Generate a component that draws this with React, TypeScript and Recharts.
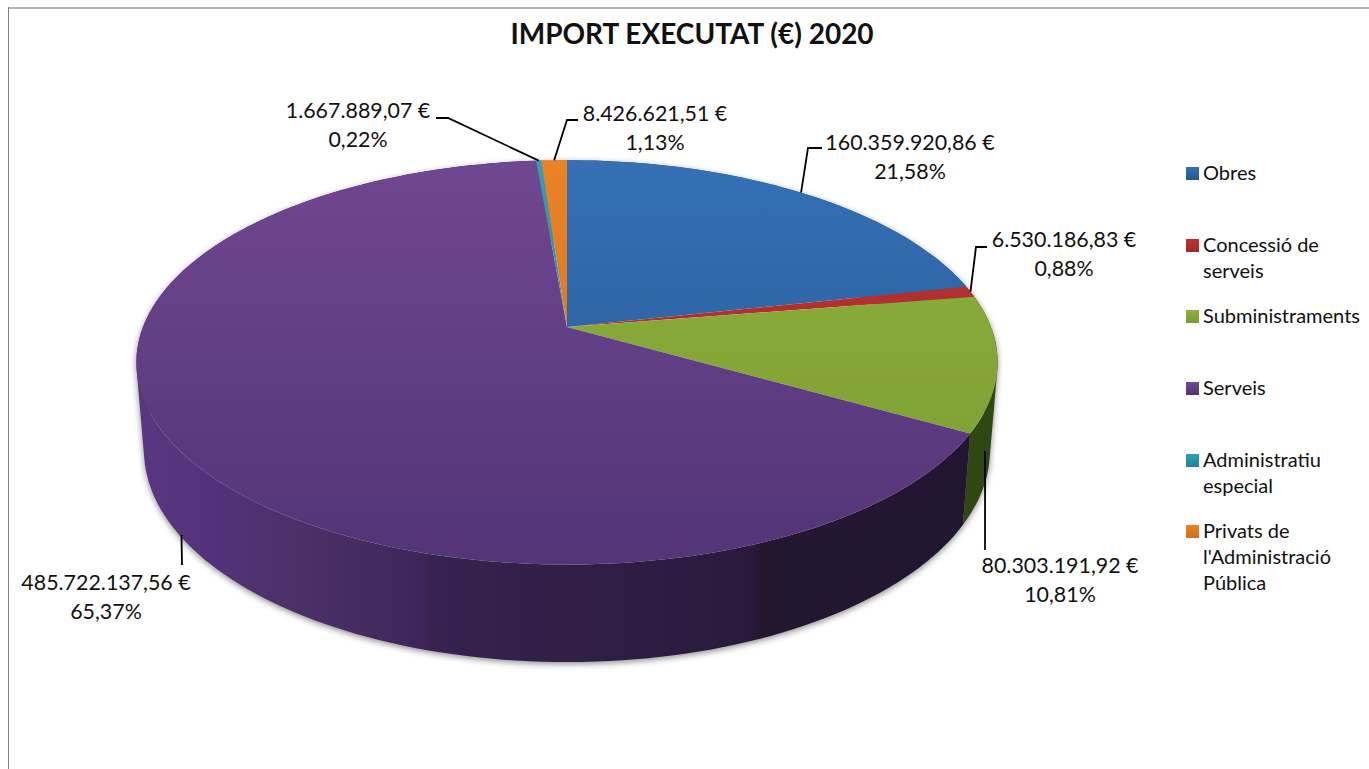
import { Legend, Pie, PieChart } from 'recharts';

const categories = ['Obres', 'Concessió de serveis', 'Subministraments', 'Serveis', 'Administratiu especial', "Privats de l'Administració Pública"];
const imports = [160359920.86, 6530186.83, 80303191.92, 485722137.56, 1667889.07, 8426621.51];
const colors = ['#2f68ac', '#b3302f', '#86a938', '#60397f', '#2b97b4', '#e47d24'];
const topShades = ['#3570b5', '#bb3431', '#8fb23d', '#704791', '#2f9fbb', '#ea8226'];
const bottomShades = ['#235792', '#9f2a2a', '#7a9a30', '#533477', '#23809a', '#d0701d'];

const rows = categories.map((name, i) => ({ name, value: imports[i], fill: colors[i] }));

const FONT = 'Lato, "Open Sans", sans-serif';
const CX = 567;
const CY = 327;
const RADIUS = 424;

// perspective projection of the disc, upper rim and lower rim
const upper = { cy: CY, a: 196, b: RADIUS, k: 0.175 };
const lower = { cy: 413, a: 205.5, b: 416.5, k: 0.175 };

const project = (rim: typeof upper, angle: number) => {
  const rad = (angle * Math.PI) / 180;
  const u = Math.cos(rad);
  const v = Math.sin(rad);
  const w = 1 + rim.k * v;
  return [CX + (rim.b * u) / w, rim.cy - (rim.a * v) / w];
};

const arc = (rim: typeof upper, from: number, to: number) => {
  const steps = Math.max(2, Math.ceil(Math.abs(to - from) / 1.5));
  const pts = [];
  for (let i = 0; i <= steps; i++) pts.push(project(rim, from + ((to - from) * i) / steps));
  return pts;
};

const toPath = (pts: number[][]) => 'M' + pts.map((p) => p[0].toFixed(1) + ' ' + p[1].toFixed(1)).join('L') + 'Z';

const TopSlice = (props: any) => {
  const i = categories.indexOf(props.name);
  const d = toPath([[CX, CY], ...arc(upper, props.startAngle, props.endAngle)]);
  return <path d={d} fill={`url(#top-${i})`} />;
};

const signedArea = (q: number[][]) =>
  q.reduce((sum, p, i) => {
    const n = q[(i + 1) % q.length];
    return sum + p[0] * n[1] - n[0] * p[1];
  }, 0);

// wall of a slice: quads with the same winding in one path, so the silhouette stays straight
const SideSlice = (props: any) => {
  const i = categories.indexOf(props.name);
  const fill = i === 2 ? '#2f4713' : i === 3 ? 'url(#side-purple)' : bottomShades[i];
  const top = arc(upper, props.startAngle, props.endAngle);
  const bottom = arc(lower, props.startAngle, props.endAngle);
  const d = top
    .slice(1)
    .map((p, s) => {
      const quad = [top[s], p, bottom[s + 1], bottom[s]];
      return toPath(signedArea(quad) < 0 ? quad.reverse() : quad);
    })
    .join('');
  return <path d={d} fill={fill} fillRule="nonzero" />;
};

// where each label sits and how its leader bends
const labelSpots = [
  { x: 910, y: 142, via: [[808, 148], [822, 148]], low: false, nudge: 0 },
  { x: 1064, y: 239, via: [[976, 247], [987, 247]], low: false, nudge: 0 },
  { x: 1060, y: 565, via: [[985, 550]], low: true, nudge: -5 },
  { x: 106, y: 582, via: [[182, 565]], low: true, nudge: 2 },
  { x: 358, y: 110, via: [[448, 118], [436, 118]], low: false, nudge: 0 },
  { x: 655, y: 113, via: [[567, 120], [578, 120]], low: false, nudge: 0 },
];

const money = (n: number) =>
  n.toLocaleString('de-DE', { minimumFractionDigits: 2, maximumFractionDigits: 2 }) + ' €';

const SliceLabel = (props: any) => {
  const i = props.index;
  const spot = labelSpots[i];
  const rimPoint = project(spot.low ? lower : upper, props.midAngle);
  const start = [rimPoint[0] + spot.nudge, rimPoint[1]];
  const pts = [start, ...spot.via].map((p) => p.join(',')).join(' ');
  return (
    <g>
      <polyline points={pts} fill="none" stroke="#000" strokeWidth={1.8} />
      <text x={spot.x} y={spot.y} textAnchor="middle" dominantBaseline="central" fontFamily={FONT} fontSize={21.4} fill="#111">
        {money(imports[i])}
      </text>
      <text x={spot.x} y={spot.y + 29} textAnchor="middle" dominantBaseline="central" fontFamily={FONT} fontSize={21.4} fill="#111">
        {(props.percent * 100).toFixed(2).replace('.', ',') + '%'}
      </text>
    </g>
  );
};

const legendTops = [160, 232, 303, 375, 447, 518];

const LegendBox = () => (
  <div style={{ position: 'relative', width: 190, height: 460 }}>
    {categories.map((name, i) => (
      <div key={name} style={{ position: 'absolute', left: 0, top: legendTops[i] - 160, width: 180 }}>
        <span
          style={{
            position: 'absolute',
            left: 0,
            top: 7,
            width: 13,
            height: 13,
            background: `linear-gradient(${topShades[i]}, ${bottomShades[i]})`,
          }}
        />
        <div style={{ marginLeft: 17, marginTop: -1, fontFamily: FONT, fontSize: 20, lineHeight: '26px', color: '#111', width: 165 }}>{name}</div>
      </div>
    ))}
  </div>
);

export default function App() {
  return (
    <div style={{ position: 'absolute', left: 0, top: 0, width: 1369, height: 769, background: '#fff', overflow: 'hidden' }}>
      <style>{'.side-pie { filter: drop-shadow(0 2px 3px rgba(0,0,0,0.45)); }'}</style>
      <div style={{ position: 'absolute', left: 8, top: 7, right: 0, borderTop: '2px solid #b5b5b5' }} />
      <div style={{ position: 'absolute', left: 8, top: 7, bottom: 0, borderLeft: '1px solid #808080' }} />
      <div
        style={{
          position: 'absolute',
          left: 392,
          top: 14,
          width: 600,
          textAlign: 'center',
          fontFamily: FONT,
          fontWeight: 700,
          fontSize: 28,
          lineHeight: '38px',
          color: '#111',
        }}
      >
        IMPORT EXECUTAT (€) 2020
      </div>
      <PieChart width={1369} height={769} style={{ position: 'absolute', left: 0, top: 0 }}>
        <defs>
          {colors.map((_, i) => (
            <linearGradient key={i} id={`top-${i}`} gradientUnits="userSpaceOnUse" x1="0" y1="160" x2="0" y2="565">
              <stop offset="0" stopColor={topShades[i]} />
              <stop offset="1" stopColor={bottomShades[i]} />
            </linearGradient>
          ))}
          <linearGradient id="side-purple" gradientUnits="userSpaceOnUse" x1="136" y1="0" x2="990" y2="0">
            <stop offset="0" stopColor="#5a3782" />
            <stop offset="0.1" stopColor="#52317a" />
            <stop offset="0.2" stopColor="#4a3066" />
            <stop offset="0.34" stopColor="#3e2559" />
            <stop offset="0.345" stopColor="#36224f" />
            <stop offset="0.72" stopColor="#291a3c" />
            <stop offset="0.73" stopColor="#231730" />
            <stop offset="1" stopColor="#211533" />
          </linearGradient>
        </defs>
        <Pie
          className="side-pie"
          data={rows}
          dataKey="value"
          nameKey="name"
          cx={CX}
          cy={CY}
          outerRadius={RADIUS}
          startAngle={90}
          endAngle={-270}
          stroke="none"
          legendType="none"
          shape={SideSlice}
          label={false}
          labelLine={false}
          isAnimationActive={false}
        />
        <Pie
          data={rows}
          dataKey="value"
          nameKey="name"
          cx={CX}
          cy={CY}
          outerRadius={RADIUS}
          startAngle={90}
          endAngle={-270}
          stroke="none"
          shape={TopSlice}
          label={SliceLabel}
          labelLine={false}
          isAnimationActive={false}
        />
        <Legend
          layout="vertical"
          align="left"
          verticalAlign="top"
          wrapperStyle={{ left: 1186, top: 160, width: 190 }}
          content={LegendBox}
        />
      </PieChart>
    </div>
  );
}
